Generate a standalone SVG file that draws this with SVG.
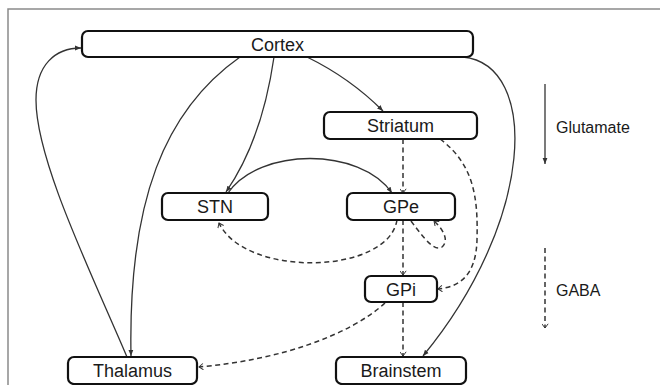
<svg xmlns="http://www.w3.org/2000/svg" width="660" height="385" viewBox="0 0 660 385">
<defs>
<style>
.node rect{fill:#fff;stroke:#111;stroke-width:2.2}
.node text,.legend text{font-family:"Liberation Sans",Arial,sans-serif;fill:#1a1a1a;text-anchor:middle}
.node text{font-size:18px}
.legend text{font-size:16px;text-anchor:start}
.solid{fill:none;stroke:#333;stroke-width:1.3}
.dash{fill:none;stroke:#333;stroke-width:1.5;stroke-dasharray:5 3.5}
</style>
<marker id="ah" viewBox="0 0 10 10" refX="10" refY="5" markerWidth="6" markerHeight="6" orient="auto" markerUnits="userSpaceOnUse">
<path d="M0,1 L10,5 L0,9 Z" fill="#333"/>
</marker>
<marker id="ad" viewBox="0 0 10 10" refX="9" refY="5" markerWidth="7" markerHeight="7" orient="auto" markerUnits="userSpaceOnUse">
<path d="M3,0.5 L9,5 L3,9.5" fill="none" stroke="#333" stroke-width="1.4"/>
</marker>
</defs>
<rect x="0" y="0" width="660" height="385" fill="#fff"/>
<path d="M8,385 V9 H660" fill="none" stroke="#8a8a8a" stroke-width="1.5"/>

<g id="connectors">
<path class="solid" d="M127,357 C90,270 36,160 36,100 C36,65 55,48 81,48" marker-end="url(#ah)"/>
<path class="solid" d="M240,57 C165,110 128,200 131,356" marker-end="url(#ah)"/>
<path class="solid" d="M274,57 Q262,140 226,192" marker-end="url(#ah)"/>
<path class="solid" d="M307,57 Q350,78 383,111" marker-end="url(#ah)"/>
<path class="solid" d="M463,57 C540,65 535,220 423,356" marker-end="url(#ah)"/>
<path class="solid" d="M228,193 C260,147 360,147 392,193" marker-end="url(#ah)"/>
<path class="dash" d="M397,220 C388,275 245,278 219,223" marker-end="url(#ad)"/>
<path class="dash" d="M403,139 V193" marker-end="url(#ad)"/>
<path class="dash" d="M440,139 C475,165 478,200 477,240 C476,275 460,287 438,289" marker-end="url(#ad)"/>
<path class="dash" d="M403,220 V275" marker-end="url(#ad)"/>
<path class="dash" d="M411,221 C425,240 435,252 442,247 C450,240 442,228 434,221" marker-end="url(#ad)"/>
<path class="dash" d="M403,302 V356" marker-end="url(#ad)"/>
<path class="dash" d="M385,303 C350,335 280,360 199,367" marker-end="url(#ad)"/>
</g>

<g id="cortex" class="node"><rect x="82" y="31" width="391" height="26" rx="6"/><text x="277.5" y="50.5">Cortex</text></g>
<g id="striatum" class="node"><rect x="324" y="112" width="153" height="27" rx="6"/><text x="400.5" y="131.5">Striatum</text></g>
<g id="stn" class="node"><rect x="162" y="193" width="106" height="27" rx="6"/><text x="215" y="213">STN</text></g>
<g id="gpe" class="node"><rect x="347" y="193" width="108" height="27" rx="6"/><text x="401" y="213">GPe</text></g>
<g id="gpi" class="node"><rect x="365" y="276" width="72" height="26" rx="6"/><text x="401" y="295.5">GPi</text></g>
<g id="thalamus" class="node"><rect x="68" y="357" width="129" height="27" rx="6"/><text x="132.5" y="377">Thalamus</text></g>
<g id="brainstem" class="node"><rect x="336" y="357" width="130" height="27" rx="6"/><text x="401" y="377">Brainstem</text></g>

<g id="legend" class="legend">
<path class="solid" d="M545,84 V164" marker-end="url(#ah)"/>
<text x="556" y="133">Glutamate</text>
<path class="dash" d="M545,248 V328" marker-end="url(#ad)"/>
<text x="556" y="296">GABA</text>
</g>
</svg>
